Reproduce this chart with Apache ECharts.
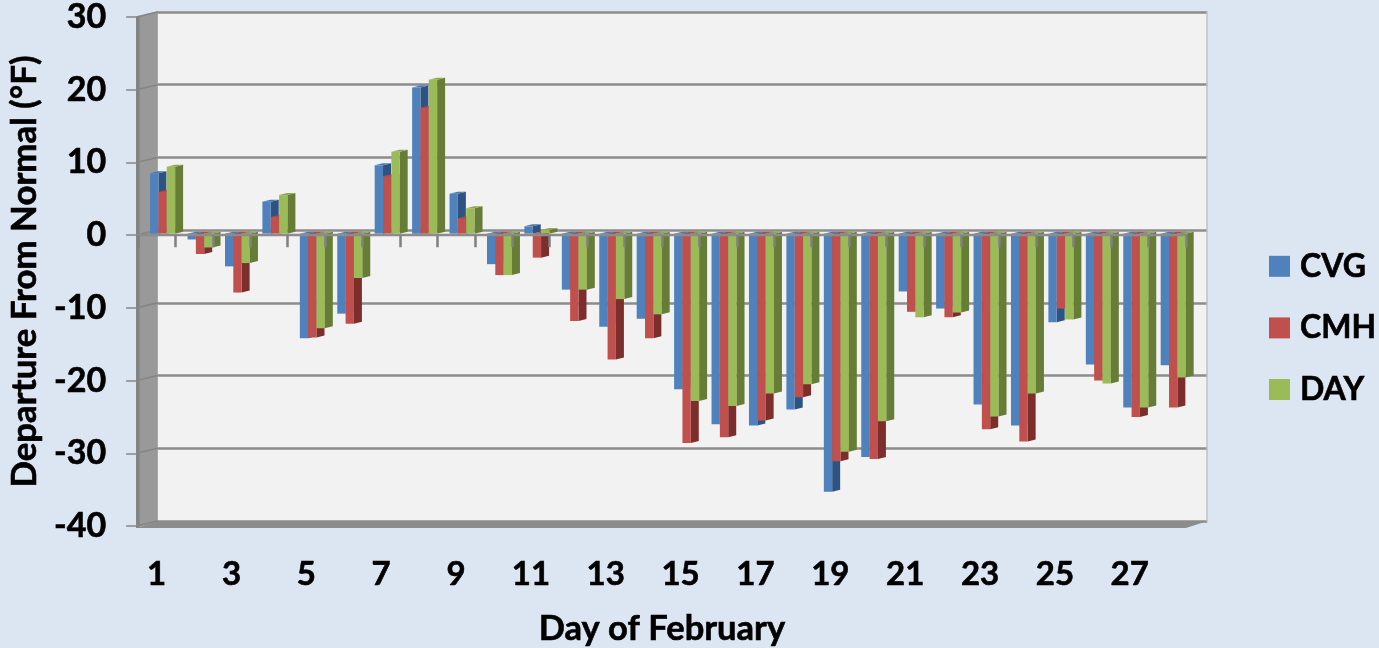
<!DOCTYPE html>
<html><head><meta charset="utf-8">
<style>html,body{margin:0;padding:0;background:#DCE6F2}#c{width:1379px;height:648px}</style>
<script src="https://cdn.jsdelivr.net/npm/echarts@6/dist/echarts.min.js"></script>
</head><body><div id="c"></div>
<script>
const days = ['1','2','3','4','5','6','7','8','9','10','11','12','13','14','15','16','17','18','19','20','21','22','23','24','25','26','27','28'];
const CVG = [8.3,-0.8,-4.5,4.4,-14.4,-11,9.4,20.1,5.5,-4.2,1.0,-7.7,-12.8,-11.7,-21.4,-26.2,-26.4,-24.2,-35.5,-30.7,-7.95,-10.3,-23.5,-26.4,-12.2,-18,-23.9,-18.1];
const CMH = [5.75,-2.8,-8.1,2.3,-14.3,-12.4,7.9,17.3,2.1,-5.7,-3.3,-12,-17.3,-14.4,-28.8,-28,-25.7,-22.5,-31.3,-31,-10.75,-11.5,-26.9,-28.6,-10.3,-20.2,-25.2,-23.9];
const DAY = [9.2,-1.9,-4.05,5.3,-13,-6.1,11.25,21.15,3.5,-5.7,0.5,-7.7,-9,-11.1,-23,-23.7,-22,-20.7,-30,-25.8,-11.5,-10.85,-25.15,-22,-11.8,-20.6,-23.9,-19.8];
const yTicks = [-40,-30,-20,-10,0,10,20,30];
const FONT = 'Lato';
const WALL_DX = 20, WALL_DY = 6;
const BAR = {w:8.33, off:-6.5, dx:8, dy:-2, plane:-1.5};
const chart = echarts.init(document.getElementById('c'), null, {renderer:'canvas'});

function poly(points, fill){ return {type:'polygon', shape:{points}, style:{fill}}; }

function barRender(idx, front, side, top){
  return function(params, api){
    const i = api.value(0), v = api.value(1);
    const pv = api.coord([i, v]), p0 = api.coord([i, 0]);
    const x = pv[0] + BAR.off + idx*BAR.w;
    const yv = pv[1] + BAR.plane, y0 = p0[1] + BAR.plane;
    const w = BAR.w, dx = BAR.dx, dy = BAR.dy;
    const t = Math.min(yv, y0), b = Math.max(yv, y0);
    return {type:'group', children:[
      poly([[x+w,t],[x+w+dx,t+dy],[x+w+dx,b+dy],[x+w,b]], side),
      poly([[x,t],[x+dx,t+dy],[x+w+dx,t+dy],[x+w,t]], top),
      {type:'rect', shape:{x:x, y:t, width:w, height:b-t}, style:{fill:front}}
    ]};
  };
}

function wallRender(params, api){
  const cs = params.coordSys;
  const L = cs.x - 1.8, T = cs.y, B = cs.y + cs.height + 2;
  const R = cs.x + cs.width;
  const ch = [
    poly([[L,T],[L+WALL_DX+1.7,T-WALL_DY],[L+WALL_DX+1.7,B-WALL_DY-1],[L,B]], '#999999'),
    {type:'rect', shape:{x:L,y:T,width:3.5,height:B-T}, style:{fill:'#828282'}},
    poly([[L,B],[L+WALL_DX+1.7,B-WALL_DY-1],[R+WALL_DX+1.7,B-WALL_DY-1],[R,B]], '#8C8C8C')
  ];
  yTicks.forEach(t=>{
    const y = api.coord([0,t])[1];
    ch.push({type:'line', shape:{x1:L,y1:y,x2:L+WALL_DX+1.7,y2:y-WALL_DY+1}, style:{stroke:'#858585',lineWidth:1.6}});
  });
  return {type:'group', children:ch};
}

function barSeries(name, values, idx, front, side, top){
  return {name, type:'custom', xAxisIndex:0, yAxisIndex:0, z:2,
    itemStyle:{color:front},
    encode:{x:0,y:1},
    data: values.map((v,i)=>[i,v]),
    renderItem: barRender(idx, front, side, top)};
}
function txt(size){ return {fontFamily:FONT, fontWeight:'bold', fontSize:size, color:'#000', textBorderColor:'#000', textBorderWidth:0.6}; }

chart.setOption({
  animation:false,
  backgroundColor:'#DCE6F2',
  textStyle:{fontFamily:FONT},
  legend:{
    orient:'vertical', left:1264, top:245, itemWidth:21, itemHeight:21, itemGap:29, itemSpacing:10, icon:'rect',
    data:['CVG','CMH','DAY'],
    textStyle:Object.assign(txt(32),{padding:[0,0,0,5]}), selectedMode:false
  },
  grid:[
    {left:137.9, top:17, width:1048, height:509, show:false, outerBoundsMode:'none'},
    {left:157.7, top:12, width:1049.5, height:509, show:true, backgroundColor:'#F2F2F2', borderWidth:0, outerBoundsMode:'none'}
  ],
  xAxis:[
    {type:'category', gridIndex:0, data:days, position:'bottom',
     axisLine:{show:false,onZero:false}, axisTick:{show:false},
     axisLabel:Object.assign(txt(33),{interval:1, margin:32}),
     name:'Day of February', nameLocation:'middle', nameGap:85, nameTextStyle:txt(34.5)},
    {type:'category', gridIndex:0, data:days, position:'top', z:5,
     axisLine:{show:true,onZero:true,lineStyle:{color:'#8C8C8C',width:2.4}},
     axisTick:{show:true,inside:true,length:12,lineStyle:{color:'#808080',width:2.5}},
     axisLabel:{show:false}},
    {type:'category', gridIndex:1, data:days, show:false}
  ],
  yAxis:[
    {type:'value', gridIndex:0, min:-40, max:30, interval:10, offset:1.8,
     axisLine:{show:false}, axisTick:{show:true,length:10,lineStyle:{color:'#8C8C8C',width:1.6}},
     splitLine:{show:false},
     axisLabel:Object.assign(txt(34),{margin:30}),
     name:'Departure From Normal (°F)', nameLocation:'middle', nameGap:93, nameRotate:90, nameTextStyle:txt(34.8)},
    {type:'value', gridIndex:1, min:-40, max:30, interval:10, position:'right',
     axisLine:{show:true,lineStyle:{color:'#BCC2C9',width:1.5}}, axisTick:{show:false}, axisLabel:{show:false},
     splitLine:{show:true,lineStyle:{color:'#8C8C8C',width:2.6}}}
  ],
  series:[
    {name:'walls', type:'custom', xAxisIndex:0, yAxisIndex:0, z:1, data:[[0,0]], silent:true, renderItem:wallRender},
    barSeries('CVG', CVG, 0, '#4F81BD', '#2F5380', '#4A79B2'),
    barSeries('CMH', CMH, 1, '#C0504D', '#7B2E2C', '#B14A47'),
    barSeries('DAY', DAY, 2, '#9BBB59', '#677D37', '#8CA850')
  ]
});
</script></body></html>
